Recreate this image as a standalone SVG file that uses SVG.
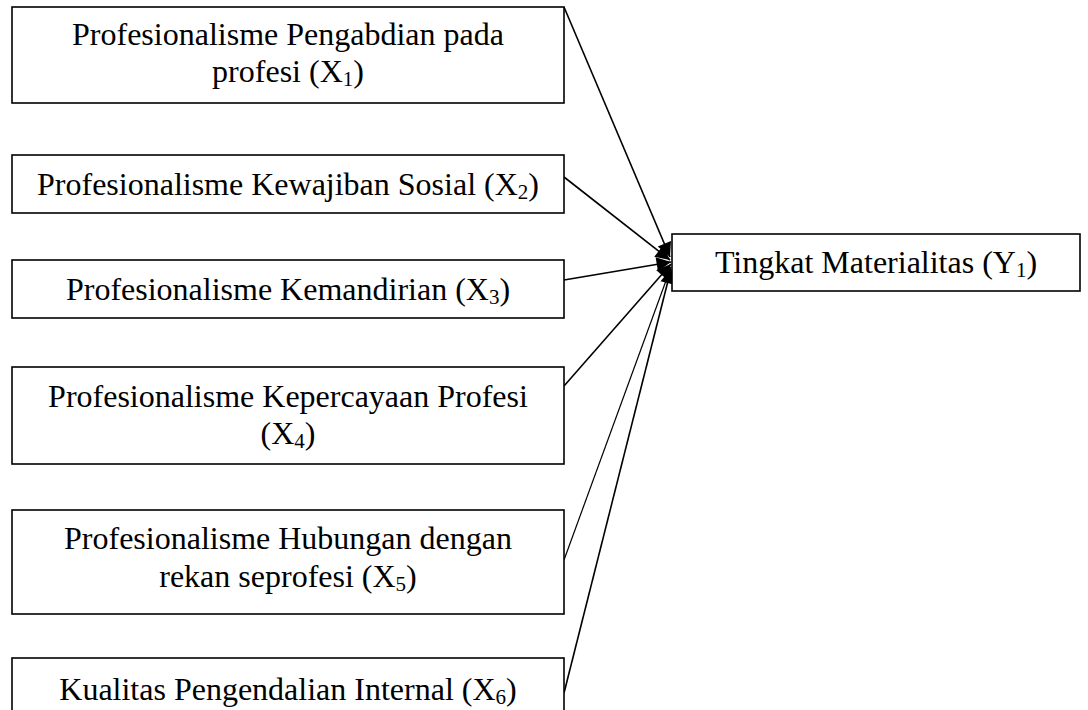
<svg xmlns="http://www.w3.org/2000/svg" width="1088" height="710" viewBox="0 0 1088 710">
<style>
.box{fill:#fff;stroke:#000;stroke-width:1.6}
.t{font-family:"Liberation Serif","Times New Roman",serif;font-size:32px;fill:#000;text-anchor:middle}
.s{font-size:21px}
.c{stroke:#000;stroke-width:1.6;fill:none;marker-end:url(#ah)}
</style>
<defs>
<marker id="ah" viewBox="0 0 10 10" refX="10" refY="5" markerWidth="12" markerHeight="9" markerUnits="strokeWidth" orient="auto">
<path d="M0,0 L10,5 L0,10 Z" fill="#000"/>
</marker>
</defs>
<rect width="1088" height="710" fill="#fff"/>
<g id="connectors">
<line class="c" x1="564" y1="7" x2="670" y2="257"/>
<line class="c" x1="564" y1="177" x2="670" y2="260"/>
<line class="c" x1="564" y1="280" x2="671" y2="262"/>
<line class="c" x1="564" y1="386" x2="671" y2="264"/>
<line class="c" x1="564" y1="560" x2="671" y2="267" style="stroke-width:1.2"/>
<line class="c" x1="564" y1="693" x2="671" y2="269"/>
</g>
<g id="x1">
<rect class="box" x="12" y="7" width="552" height="96"/>
<text class="t" x="288" y="45">Profesionalisme Pengabdian pada</text>
<text class="t" x="288" y="82">profesi (X<tspan class="s" dy="4">1</tspan><tspan dy="-4">)</tspan></text>
</g>
<g id="x2">
<rect class="box" x="12" y="155" width="552" height="58"/>
<text class="t" x="288" y="195">Profesionalisme Kewajiban Sosial (X<tspan class="s" dy="4">2</tspan><tspan dy="-4">)</tspan></text>
</g>
<g id="x3">
<rect class="box" x="12" y="260" width="552" height="58"/>
<text class="t" x="288" y="300">Profesionalisme Kemandirian (X<tspan class="s" dy="4">3</tspan><tspan dy="-4">)</tspan></text>
</g>
<g id="x4">
<rect class="box" x="12" y="367" width="552" height="97"/>
<text class="t" x="288" y="407">Profesionalisme Kepercayaan Profesi</text>
<text class="t" x="288" y="444">(X<tspan class="s" dy="4">4</tspan><tspan dy="-4">)</tspan></text>
</g>
<g id="x5">
<rect class="box" x="12" y="510" width="552" height="104"/>
<text class="t" x="288" y="549">Profesionalisme Hubungan dengan</text>
<text class="t" x="288" y="587">rekan seprofesi (X<tspan class="s" dy="4">5</tspan><tspan dy="-4">)</tspan></text>
</g>
<g id="x6">
<rect class="box" x="12" y="658" width="552" height="70"/>
<text class="t" x="288" y="700">Kualitas Pengendalian Internal (X<tspan class="s" dy="4">6</tspan><tspan dy="-4">)</tspan></text>
</g>
<g id="y1">
<rect class="box" x="672" y="234" width="408" height="57"/>
<text class="t" x="876" y="273">Tingkat Materialitas (Y<tspan class="s" dy="4">1</tspan><tspan dy="-4">)</tspan></text>
</g>
</svg>
